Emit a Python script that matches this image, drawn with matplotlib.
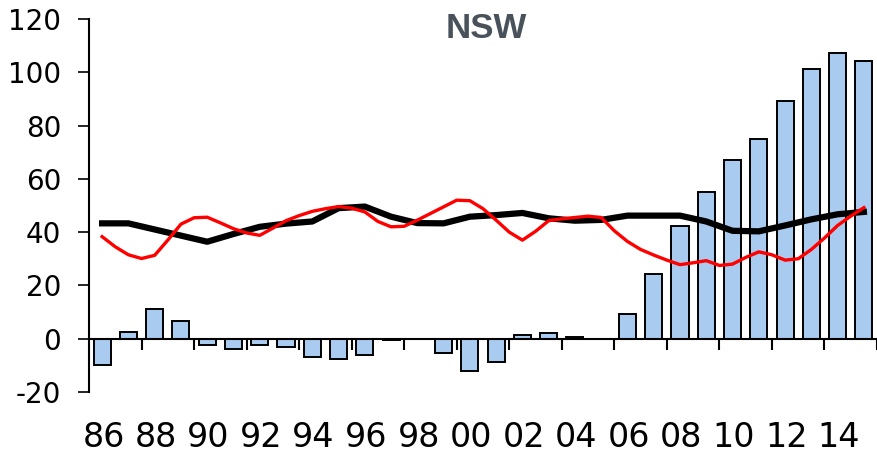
import matplotlib
matplotlib.use("Agg")
import matplotlib.pyplot as plt
import numpy as np

plt.rcParams["axes.unicode_minus"] = False

years = list(range(1986, 2016))
tick_labels = ["86", "88", "90", "92", "94", "96", "98", "00", "02", "04", "06", "08", "10", "12", "14"]

bar_values = [-9.9, 2.4, 11.3, 6.8, -2.3, -3.9, -2.3, -3.0, -6.9, -7.7,
              -6.0, -0.5, 0.0, -5.2, -12.1, -8.9, 1.5, 2.3, 0.7, 0.0,
              9.2, 24.2, 42.2, 55.0, 67.1, 74.8, 89.1, 101.2, 107.3, 104.2]

black_values = [43.3, 43.3, 41.0, 38.7, 36.4, 39.3, 42.0, 43.2, 44.0, 49.0,
                49.6, 45.8, 43.4, 43.3, 45.8, 46.4, 47.2, 45.2, 44.3, 44.6,
                46.2, 46.2, 46.2, 44.0, 40.5, 40.3, 42.5, 44.8, 46.7, 47.6]

# red series read at half-year intervals, 1986.0 .. 2015.0
red_values = [38.3, 34.5, 31.5, 30.1, 31.3, 37.0, 43.0, 45.4, 45.6, 43.5,
              41.3, 39.7, 38.8, 41.5, 44.3, 46.2, 47.8, 48.8, 49.6, 49.0,
              47.6, 44.0, 42.0, 42.2, 44.5, 47.0, 49.5, 52.0, 51.8, 48.8,
              44.5, 40.0, 37.0, 40.3, 44.3, 45.0, 45.5, 46.0, 45.5, 40.5,
              36.5, 33.5, 31.4, 29.5, 27.8, 28.5, 29.3, 27.5, 28.0, 30.5,
              32.6, 31.5, 29.5, 30.0, 33.5, 37.8, 42.5, 46.0, 49.2]

title = "NSW"

fig = plt.figure(figsize=(8.77, 4.55), dpi=100)
ax = fig.add_axes([89/877, 1-392/455, 788/877, 373/455])

x = np.arange(len(years))
ax.bar(x, bar_values, width=0.65, color="#A9CBEF", edgecolor="black", linewidth=1.4, zorder=2)

ax.plot(x, black_values, color="black", linewidth=4.5, zorder=3, solid_joinstyle="round")
xr = np.arange(len(red_values)) / 2.0
ax.plot(xr, red_values, color="#FF0000", linewidth=2.4, zorder=4, solid_joinstyle="round")

ax.set_xlim(-0.5, len(years) - 0.5)
ax.set_ylim(-20, 120)
ax.set_yticks(np.arange(-20, 121, 20))
ax.tick_params(axis="y", labelsize=20, length=8, width=1.2, pad=12, direction="out")

for s in ["top", "right"]:
    ax.spines[s].set_visible(False)
ax.spines["left"].set_linewidth(1.5)
ax.spines["bottom"].set_position(("data", 0))
ax.spines["bottom"].set_linewidth(1.5)
ax.spines["bottom"].set_zorder(5)

boundaries = np.arange(1.5, len(years), 2.0)
ax.set_xticks(boundaries)
ax.set_xticklabels([])
ax.tick_params(axis="x", length=8, width=1.5, direction="out")

label_pos = np.arange(0, len(years), 2)
for p, lab in zip(label_pos, tick_labels):
    ax.text(p + 0.05, -0.122, lab, transform=ax.get_xaxis_transform(), ha="center", va="center",
            fontsize=24)

fig.text(486/877, 1-28/455, title, ha="center", va="center", fontsize=25,
         fontweight="bold", family="Liberation Sans", color="#49525B")

fig.savefig("out.png", dpi=100)
